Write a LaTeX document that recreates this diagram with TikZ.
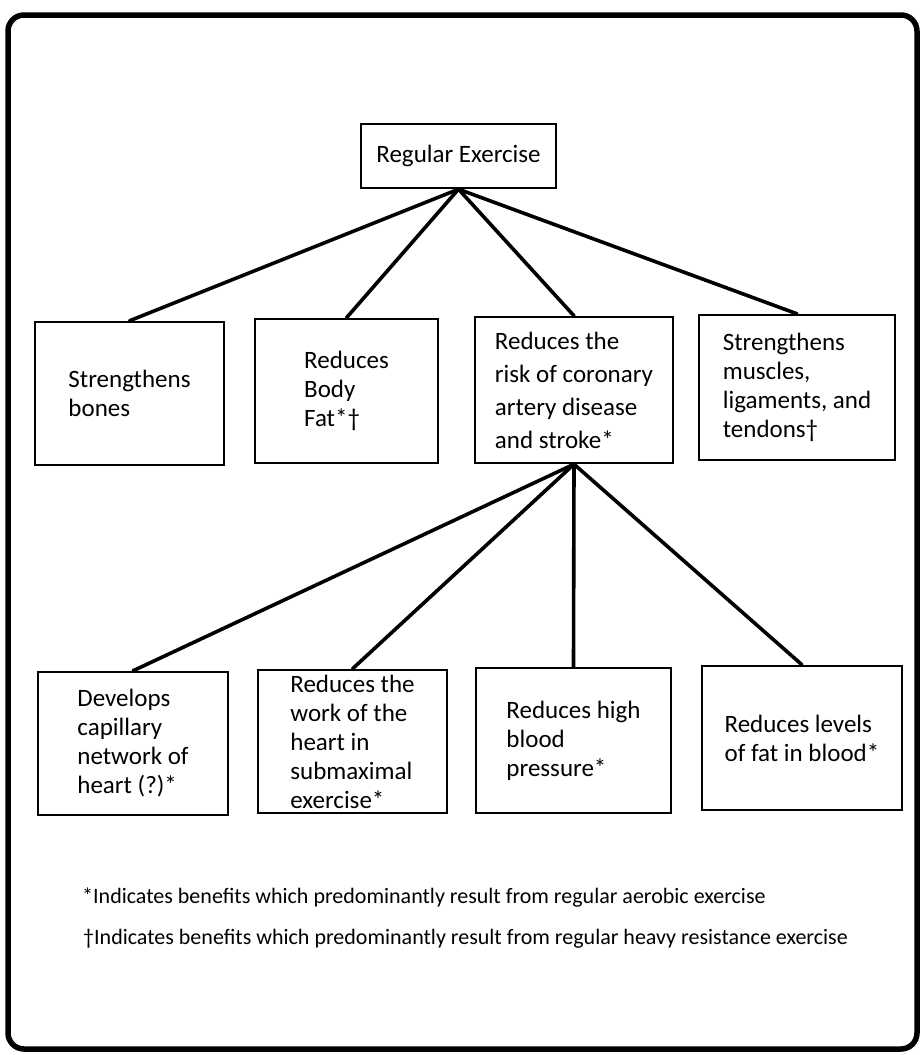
\documentclass[tikz,border=0pt]{standalone}
\usepackage{fontspec}
\setmainfont{Carlito}
\begin{document}
\begin{tikzpicture}[x=1pt,y=-1pt,
  box/.style={draw, line width=2.4pt, align=left, inner sep=0pt,
    font=\fontsize{25}{29}\selectfont},
  conn/.style={line width=3.6pt, line cap=round},
  note/.style={anchor=base west, inner sep=0pt, font=\fontsize{22}{24}\selectfont}]
\useasboundingbox (0,0) rectangle (921,1055);
\draw[line width=5.5pt, rounded corners=16pt] (8,15) rectangle (917,1049);

\node[box, minimum width=195pt, minimum height=64pt] (root) at (458.5,156) {Regular Exercise};

\node[box, minimum width=189pt, minimum height=143pt] (b1) at (129.5,393.5) {Strengthens\\bones};
\node[box, minimum width=183pt, minimum height=144pt] (b2) at (346.5,391) {Reduces\\Body\\Fat*†};
\node[box, minimum width=198pt, minimum height=146pt, font=\fontsize{25}{33}\selectfont] (b3) at (574,390) {Reduces the\\risk of coronary\\artery disease\\and stroke*};
\node[box, minimum width=196pt, minimum height=145pt] (b4) at (797,387.5) {Strengthens\\muscles,\\ligaments, and\\tendons†};

\node[box, minimum width=190pt, minimum height=143pt] (b5) at (133,743.5) {Develops\\capillary\\network of\\heart (?)*};
\node[box, minimum width=189pt, minimum height=143pt] (b6) at (352.5,741.5) {Reduces the\\work of the\\heart in\\submaximal\\exercise*};
\node[box, minimum width=195pt, minimum height=145pt] (b7) at (573.5,740.5) {Reduces high\\blood\\pressure*};
\node[box, minimum width=200pt, minimum height=144pt] (b8) at (802,738) {Reduces levels\\of fat in blood*};

\foreach \b in {b1,b2,b3,b4} \draw[conn] (root.south) -- (\b.north);
\foreach \b in {b5,b6,b7,b8} \draw[conn] (b3.south) -- (\b.north);

\node[note] (n1) at (82,903) {*Indicates benefits which predominantly result from regular aerobic exercise};
\node[note] (n2) at (83,944) {†Indicates benefits which predominantly result from regular heavy resistance exercise};
\end{tikzpicture}
\end{document}
